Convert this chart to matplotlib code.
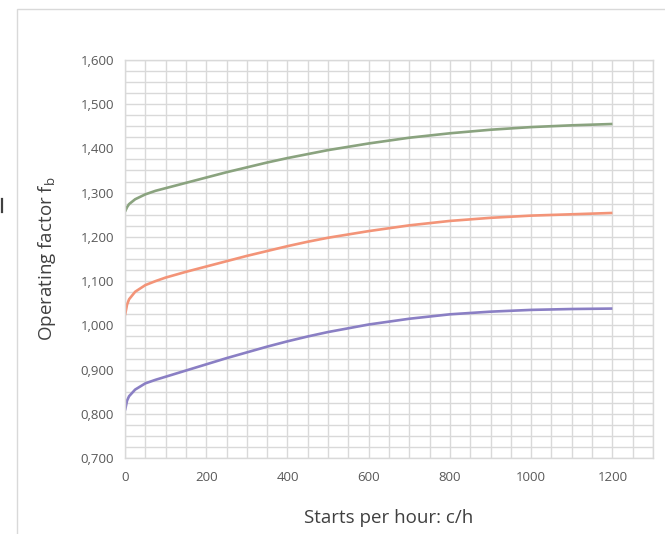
import matplotlib.pyplot as plt
from matplotlib.ticker import MultipleLocator, FuncFormatter
from matplotlib.patches import Rectangle
from matplotlib.lines import Line2D

# starts per hour (c/h)
starts = [0, 5, 10, 25, 50, 75, 100, 150, 200, 250, 300, 350, 400, 450,
          500, 600, 700, 800, 900, 1000, 1100, 1200]

# operating factor fb
upper = [1.257, 1.267, 1.274, 1.285, 1.296, 1.304, 1.310, 1.322, 1.334,
         1.346, 1.357, 1.368, 1.378, 1.387, 1.396, 1.411, 1.424, 1.434,
         1.442, 1.448, 1.452, 1.455]
middle = [1.023, 1.047, 1.059, 1.076, 1.091, 1.100, 1.108, 1.121, 1.133,
          1.145, 1.157, 1.168, 1.179, 1.189, 1.198, 1.213, 1.226, 1.236,
          1.243, 1.248, 1.251, 1.254]
lower = [0.808, 0.830, 0.840, 0.855, 0.869, 0.877, 0.884, 0.898, 0.912,
         0.926, 0.939, 0.952, 0.964, 0.975, 0.985, 1.002, 1.015, 1.025,
         1.031, 1.035, 1.037, 1.038]

colors = ['#8aa37f', '#f39478', '#8a7fc4']

plt.rcParams['font.family'] = ['Open Sans', 'DejaVu Sans']

fig = plt.figure(figsize=(6.65, 5.34), dpi=100)
ax = fig.add_axes([0.188, 0.142, 0.794, 0.746])

# outer chart frame (cropped on right and bottom)
fig.patches.append(Rectangle((17 / 665, -0.1), 1.2, 1 - 9 / 534 + 0.1,
                             transform=fig.transFigure, fill=False,
                             edgecolor='#d9d9d9', linewidth=1.0))
fig.lines.append(Line2D([1.5 / 665, 1.5 / 665], [1 - 199 / 534, 1 - 212 / 534],
                        transform=fig.transFigure, color='#404040', linewidth=1.6))

for ys, c in zip([upper, middle, lower], colors):
    ax.plot(starts, ys, color=c, linewidth=1.9, solid_capstyle='butt',
            solid_joinstyle='round')

ax.set_xlim(0, 1300)
ax.set_ylim(0.7, 1.6)
ax.xaxis.set_major_locator(MultipleLocator(200))
ax.xaxis.set_minor_locator(MultipleLocator(50))
ax.yaxis.set_major_locator(MultipleLocator(0.1))
ax.yaxis.set_minor_locator(MultipleLocator(0.025))
ax.yaxis.set_major_formatter(FuncFormatter(lambda v, p: f'{v:.3f}'.replace('.', ',')))
ax.set_xticks([0, 200, 400, 600, 800, 1000, 1200])

ax.grid(which='both', color='#d9d9d9', linewidth=1.0)
ax.set_axisbelow(True)
for s in ax.spines.values():
    s.set_color('#d9d9d9')
    s.set_linewidth(1.0)

ax.tick_params(which='both', length=0, colors='#595959', labelsize=9.5)
ax.tick_params(axis='x', pad=9)
ax.tick_params(axis='y', pad=8)

ax.set_xlabel('Starts per hour: c/h', fontsize=13.5, color='#404040', labelpad=18)
ax.set_ylabel('Operating factor f$_\\mathregular{b}$', fontsize=13.5, color='#404040', labelpad=16)

fig.savefig('out.png', dpi=100, facecolor='white')
